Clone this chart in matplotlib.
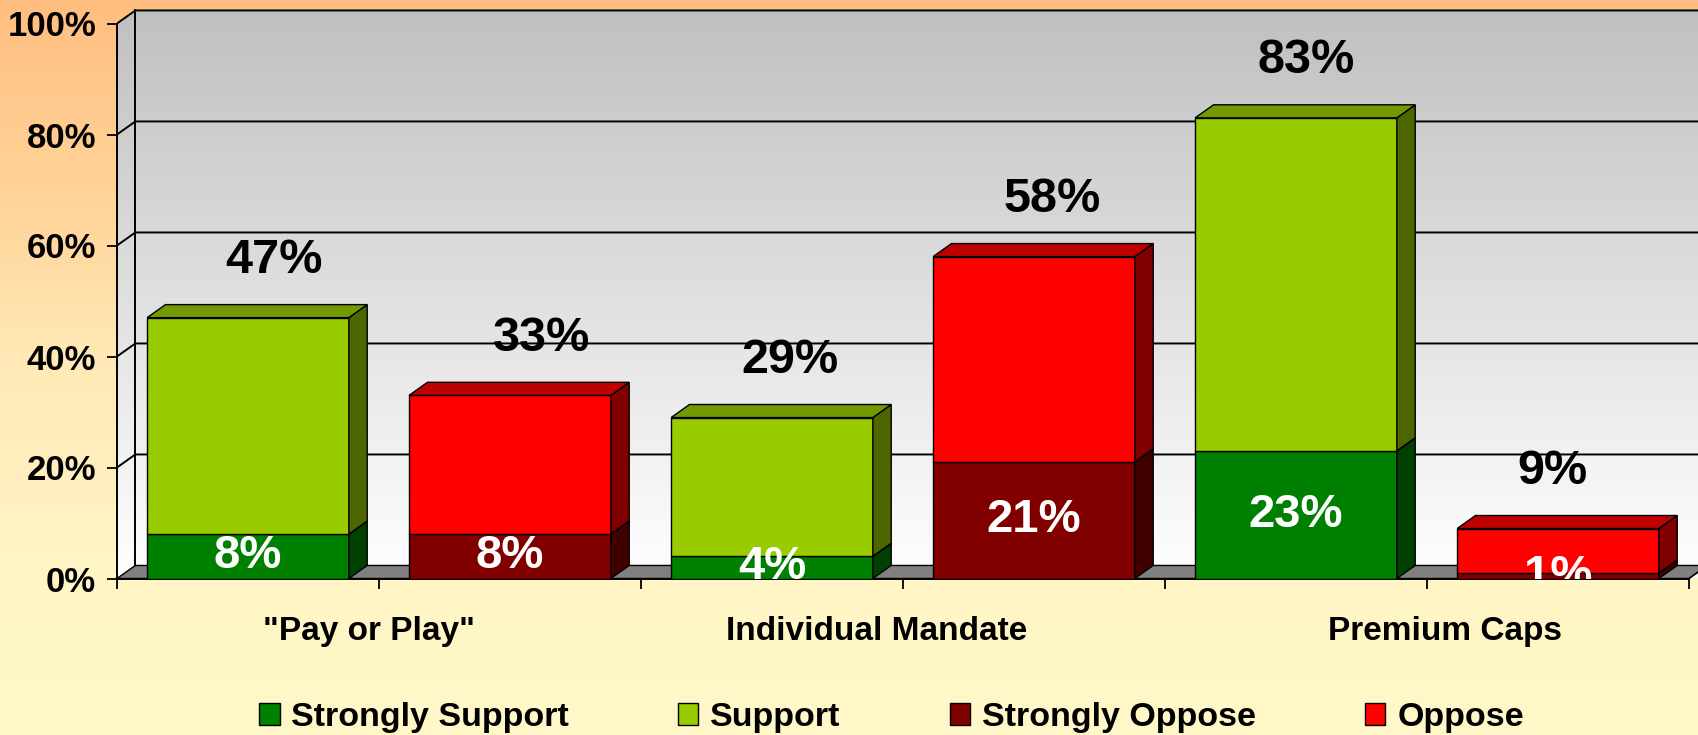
import numpy as np
import matplotlib
matplotlib.use('Agg')
import matplotlib.pyplot as plt
from matplotlib.patches import Polygon, Patch
from matplotlib.colors import LinearSegmentedColormap, to_rgb

plt.rcParams['font.family'] = ['Liberation Sans', 'DejaVu Sans']
plt.rcParams['font.weight'] = 'bold'

# data
groups = ['"Pay or Play"', 'Individual Mandate', 'Premium Caps']
series = ['Strongly Support', 'Support', 'Strongly Oppose', 'Oppose']
strongly_support = [8, 4, 23]
support = [39, 25, 60]
strongly_oppose = [8, 21, 1]
oppose = [25, 37, 8]
y_ticks = [0, 20, 40, 60, 80, 100]

colors = {
    'Strongly Support': '#008000',
    'Support': '#99CC00',
    'Strongly Oppose': '#800000',
    'Oppose': '#FF0000',
}

# layout (not data)
bw = 0.77
dx, dy = 0.07, 2.35
top_nudge = [0.10, 0.12, 0.07, 0.07, 0.04, -0.02]
group_label_x = [0.46, 2.40, 4.57]


def shade(c, f):
    r, g, b = to_rgb(c)
    return (r * f, g * f, b * f)


fig = plt.figure(figsize=(16.98, 7.35), dpi=100)

# figure background gradient
bg = fig.add_axes([0, 0, 1, 1], zorder=-1)
bg_cmap = LinearSegmentedColormap.from_list(
    'bg', [(0, '#FFF8C8'), (0.22, '#FFF5C5'), (0.52, '#FFE8B5'), (0.67, '#FFD9A0'), (1, '#FFBE80')])
bg.imshow(np.linspace(0, 1, 256).reshape(-1, 1), cmap=bg_cmap, aspect='auto',
          origin='lower', extent=[0, 1, 0, 1])
bg.axis('off')

ax = fig.add_axes([117 / 1698, (735 - 578.5) / 735, 1 - 117 / 1698, 578.5 / 735])
ax.patch.set_visible(False)
xmax = -0.5 + (1698 - 117) / 262
ymax = 578.5 / 5.55

# walls
wall_cmap = LinearSegmentedColormap.from_list('wall', ['#FFFFFF', '#C0C0C0'])
im = ax.imshow(np.linspace(0, 1, 256).reshape(-1, 1), cmap=wall_cmap, aspect='auto',
               origin='lower', extent=[-0.5, xmax + 0.2, 0, 100 + dy], zorder=0)
wall = Polygon([(-0.5, 0), (-0.5, 100), (-0.5 + dx, 100 + dy), (xmax + 0.2, 100 + dy),
                (xmax + 0.2, 0)], closed=True, facecolor='none', edgecolor='none',
               transform=ax.transData)
ax.add_patch(wall)
im.set_clip_path(wall)

lw = 1.4
for v in y_ticks[1:]:
    ax.plot([-0.5, -0.5 + dx, xmax + 0.2], [v, v + dy, v + dy], color='black', lw=lw, zorder=1)
ax.plot([-0.5 + dx, -0.5 + dx], [dy, 100 + dy], color='black', lw=lw, zorder=1)
ax.plot([-0.5, -0.5], [0, 100], color='black', lw=lw, zorder=1, clip_on=False)

# floor
ax.add_patch(Polygon([(-0.5, 0), (5.5, 0), (5.5 + dx, dy), (xmax + 0.2, dy),
                      (-0.5 + dx, dy)], closed=True, facecolor='#808080',
                     edgecolor='black', lw=1.0, zorder=2))
ax.plot([-0.5, 5.5], [0, 0], color='black', lw=lw, zorder=2, clip_on=False)
ax.plot([5.5, 5.5 + dx], [0, dy], color='black', lw=1.0, zorder=2)


def box(x, y0, y1, color, z):
    ax.bar(x, y1 - y0, width=bw, bottom=y0, color=color, edgecolor='black', lw=1.0, zorder=z)
    xl, xr = x - bw / 2, x + bw / 2
    ax.add_patch(Polygon([(xr, y0), (xr + dx, y0 + dy), (xr + dx, y1 + dy), (xr, y1)],
                         closed=True, facecolor=shade(color, 0.5), edgecolor='black',
                         lw=1.0, zorder=z))
    ax.add_patch(Polygon([(xl, y1), (xl + dx, y1 + dy), (xr + dx, y1 + dy), (xr, y1)],
                         closed=True, facecolor=shade(color, 0.75), edgecolor='black',
                         lw=1.0, zorder=z))


cols = []
for g in range(len(groups)):
    cols.append((strongly_support[g], support[g], 'Strongly Support', 'Support'))
    cols.append((strongly_oppose[g], oppose[g], 'Strongly Oppose', 'Oppose'))

for i, (low, high, s_low, s_high) in enumerate(cols):
    total = low + high
    box(i, 0, low, colors[s_low], 3)
    box(i, low, total, colors[s_high], 4)
    ax.text(i, low / 2, f'{low}%', color='white', fontsize=34, fontweight='bold',
            ha='center', va='center', zorder=10, clip_on=True)
    ax.text(i + top_nudge[i], total + 10.3, f'{total}%', color='black', fontsize=35,
            fontweight='bold', ha='center', va='center', zorder=10)

for gx, label in zip(group_label_x, groups):
    ax.text(gx, -9.6, label, fontsize=24, fontweight='bold', ha='center', va='center',
            clip_on=False)

ax.set_xlim(-0.5, xmax)
ax.set_ylim(0, ymax)
ax.set_yticks(y_ticks)
ax.set_yticklabels([f'{v}%' for v in y_ticks], fontsize=25, fontweight='bold')
ax.set_xticks(np.arange(-0.5, 6, 1))
ax.set_xticklabels([])
ax.tick_params(axis='both', length=7, width=1.3, direction='out', pad=8)
for s in ax.spines.values():
    s.set_visible(False)

handles = [Patch(facecolor=colors[s], edgecolor='black', lw=1.0) for s in series]
fig.legend(handles, series, loc='center', bbox_to_anchor=(0.525, 0.024), ncol=4,
           frameon=False, prop={'weight': 'bold', 'size': 24.5},
           handlelength=0.6, handleheight=0.6, handletextpad=0.35, columnspacing=3.2)

fig.savefig('out.png', dpi=100)
